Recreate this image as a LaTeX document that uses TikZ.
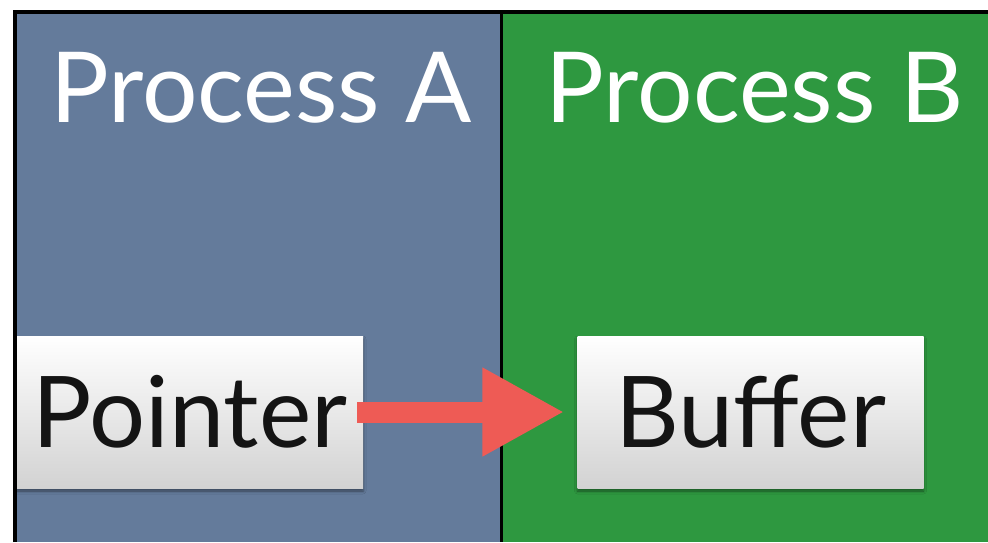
\documentclass[tikz,border=0pt]{standalone}
\usepackage{fontspec}
\setmainfont{Lato}
\usetikzlibrary{arrows.meta,shadows.blur}
\definecolor{slateblue}{RGB}{100,123,155}
\definecolor{feltgreen}{RGB}{46,152,64}
\definecolor{arrowred}{RGB}{238,91,85}
\tikzset{
  title/.style={text=white,anchor=base,inner sep=0pt,font=\fontsize{98}{100}\selectfont},
  membox/.style={minimum width=346pt,minimum height=152pt,inner sep=0pt,
    top color=white,bottom color=gray!35,text=black!92,
    font=\fontsize{99}{102}\selectfont,
    blur shadow={shadow xshift=0pt,shadow yshift=-3pt,shadow blur radius=3pt,shadow opacity=45}},
  refarrow/.style={draw=arrowred,line width=21pt,-{Triangle[length=82pt,width=83pt]}}
}
\begin{document}
\begin{tikzpicture}[x=1pt,y=-1pt]
\useasboundingbox [fill=white] (0,0) rectangle (988,542);
\fill [slateblue] (15,12) rectangle (501.5,542);
\fill [feltgreen] (501.5,12) rectangle (988,542);
\draw [line width=4pt] (15,542) -- (15,12) -- (988,12);
\draw [line width=3pt] (501.5,12) -- (501.5,542);

\node [title] (procA) at (261,122) {Process A};
\node [title] (procB) at (755,122) {Process B};

\node [membox] (ptr) at (190,412) {Pointer};
\node [membox] (buf) at (750.5,412) {Buffer};

\draw [refarrow,shorten <=-6pt,shorten >=13pt] (ptr.east) -- (buf.west);
\end{tikzpicture}
\end{document}
